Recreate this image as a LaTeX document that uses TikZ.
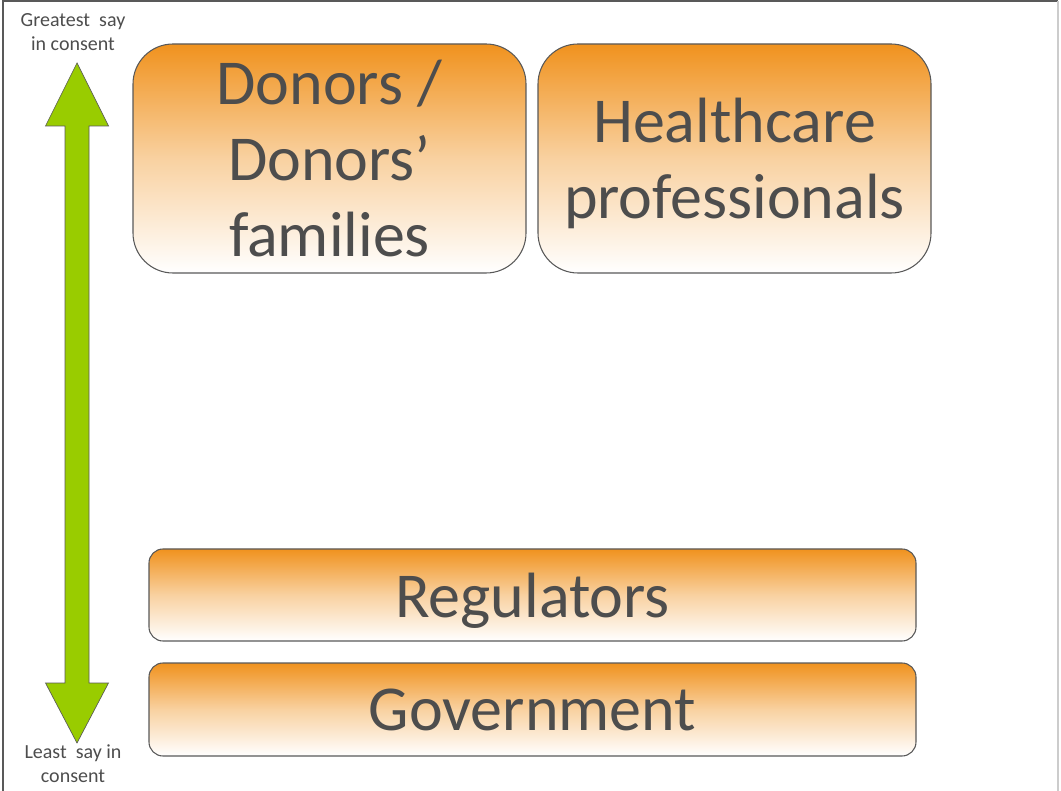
\documentclass[tikz,border=0pt]{standalone}
\usepackage{fontspec}
\setmainfont{Carlito}
\usepackage{tikz}
\usetikzlibrary{positioning}
\definecolor{consentorange}{HTML}{F0921E}
\definecolor{consentgreen}{HTML}{99CC00}
\definecolor{textgris}{HTML}{4D4D4D}
\definecolor{bordgris}{HTML}{595959}

\begin{document}
\begin{tikzpicture}[
    x=0.75pt, y=-0.75pt,
    party/.style={rounded corners=30pt, draw=bordgris, line width=0.8pt,
      top color=consentorange, bottom color=white,
      middle color=consentorange!42, align=center,
      text=textgris, font=\fontsize{48}{57}\selectfont, inner sep=0pt,
      text depth=0pt},
    tier/.style={party, rounded corners=10.5pt, minimum width=575.25pt},
    endlbl/.style={font=\fontsize{15}{18}\selectfont, text=textgris,
      align=center, inner sep=0pt}
  ]
    \useasboundingbox (0,0) rectangle (1061,791);
    % Cadre
    \draw[bordgris, line width=0.9pt] (3,791) -- (3,1) -- (1058,1);
    \draw[black!20, line width=0.9pt] (1058,1) -- (1058,791);
    % Acteurs du haut
    \node[party, minimum width=294.75pt, minimum height=171.75pt]
          (donors) at (329.5,158.5) {Donors /\\Donors’\\families};
    \node[party, minimum width=294.75pt, minimum height=171.75pt]
          (health) at (734.5,158.5) {Healthcare\\professionals};
    % Acteurs du bas
    \node[tier, minimum height=69pt] (reg) at (532.5,595) {Regulators};
    \node[tier, minimum height=69.75pt] (gov) at (532.5,709.5) {Government};
    % Fleche double
    \filldraw[fill=consentgreen, draw=bordgris, line width=0.5pt]
      (77,63) -- (108.5,126) -- (89,126) -- (89,683) -- (108.5,683) -- (77,743)
      -- (45.5,683) -- (65,683) -- (65,126) -- (45.5,126) -- cycle;
    \node[endlbl] (most) at (73,32) {Greatest~ say\\in consent};
    \node[endlbl] (least) at (73,764) {Least~ say in\\consent};
  \end{tikzpicture}
\end{document}
